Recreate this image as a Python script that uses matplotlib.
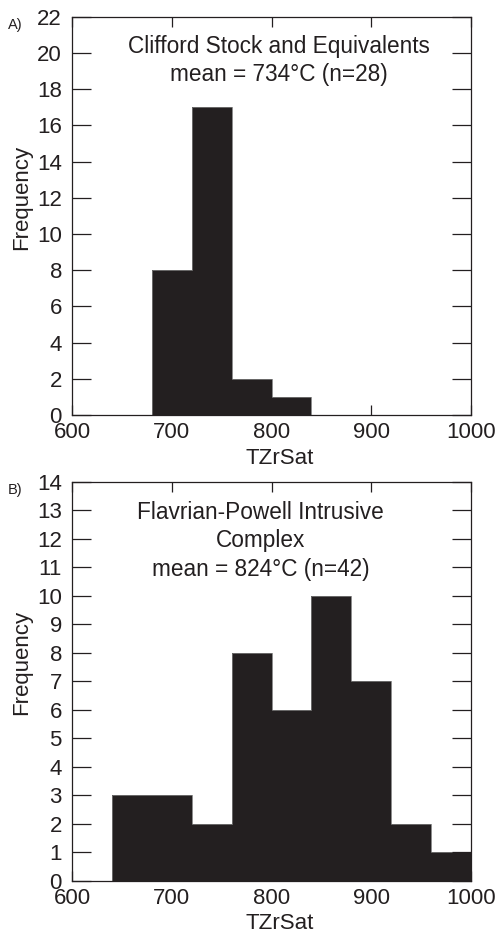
import numpy as np
import matplotlib
matplotlib.use('Agg')
import matplotlib.pyplot as plt

plt.rcParams['font.family'] = ['Liberation Sans', 'DejaVu Sans']

# panel A: Clifford Stock
edges_a = [680, 720, 760, 800, 840]
counts_a = [8, 17, 2, 1]
# panel B: Flavrian-Powell
edges_b = [640, 680, 720, 760, 800, 840, 880, 920, 960, 1000]
counts_b = [3, 3, 2, 8, 6, 10, 7, 2, 1]

titles = ['Clifford Stock and Equivalents\nmean = 734\u00b0C (n=28)',
          'Flavrian-Powell Intrusive\nComplex\nmean = 824\u00b0C (n=42)']
panel_tags = ['A)', 'B)']
ymax = [22, 14]
ystep = [2, 1]

W, H = 504, 935
fig = plt.figure(figsize=(W / 100, H / 100), dpi=100)

ink = '#231f20'
fs = 16

# axes boxes in pixels: left, top, right, bottom
boxes = [(72.3, 16.7, 470.7, 415.0), (72.3, 481.7, 470.7, 880.7)]
# title block centre: x in axes fraction, y in px below axes top
title_pos = [(0.518, 43.7), (0.473, 59.1)]

for i, (edges, counts) in enumerate([(edges_a, counts_a), (edges_b, counts_b)]):
    l, t, r, b = boxes[i]
    ax = fig.add_axes([l / W, 1 - b / H, (r - l) / W, (b - t) / H])
    ax.stairs(counts, edges, fill=True, color=ink, linewidth=0)
    ax.stairs(counts, edges, color='#777777', linewidth=0.6)
    ax.set_xlim(600, 1000)
    ax.set_ylim(0, ymax[i])
    ax.set_xticks([600, 700, 800, 900, 1000])
    ax.set_yticks(np.arange(0, ymax[i] + 1, ystep[i]))
    ax.tick_params(axis='both', direction='in', top=True, right=True,
                   labelsize=fs, width=0.9, color=ink, labelcolor=ink)
    ax.tick_params(axis='y', length=13.5, pad=7.5)
    ax.tick_params(axis='x', length=7, pad=5)
    for s in ax.spines.values():
        s.set_linewidth(0.9)
        s.set_color(ink)
    ax.set_xlabel('TZrSat', fontsize=fs, color=ink)
    ax.set_ylabel('Frequency', fontsize=fs, color=ink)
    ax.xaxis.set_label_coords(0.521, -(458 - 415) / 398.3)
    ax.xaxis.label.set_va('center')
    ax.yaxis.set_label_coords((22 - 72.3) / 398.4, 0.546)
    ax.yaxis.label.set_va('center')
    tx, ty = title_pos[i]
    ax.text(tx, 1 - ty / (b - t), titles[i], transform=ax.transAxes,
            ha='center', va='center', fontsize=16.3, color=ink,
            linespacing=1.31, multialignment='center')
    fig.text(8 / W, 1 - (t + 8.5) / H, panel_tags[i], fontsize=10.5,
             color=ink, ha='left', va='center')

plt.savefig('out.png', dpi=100)
plt.close()
